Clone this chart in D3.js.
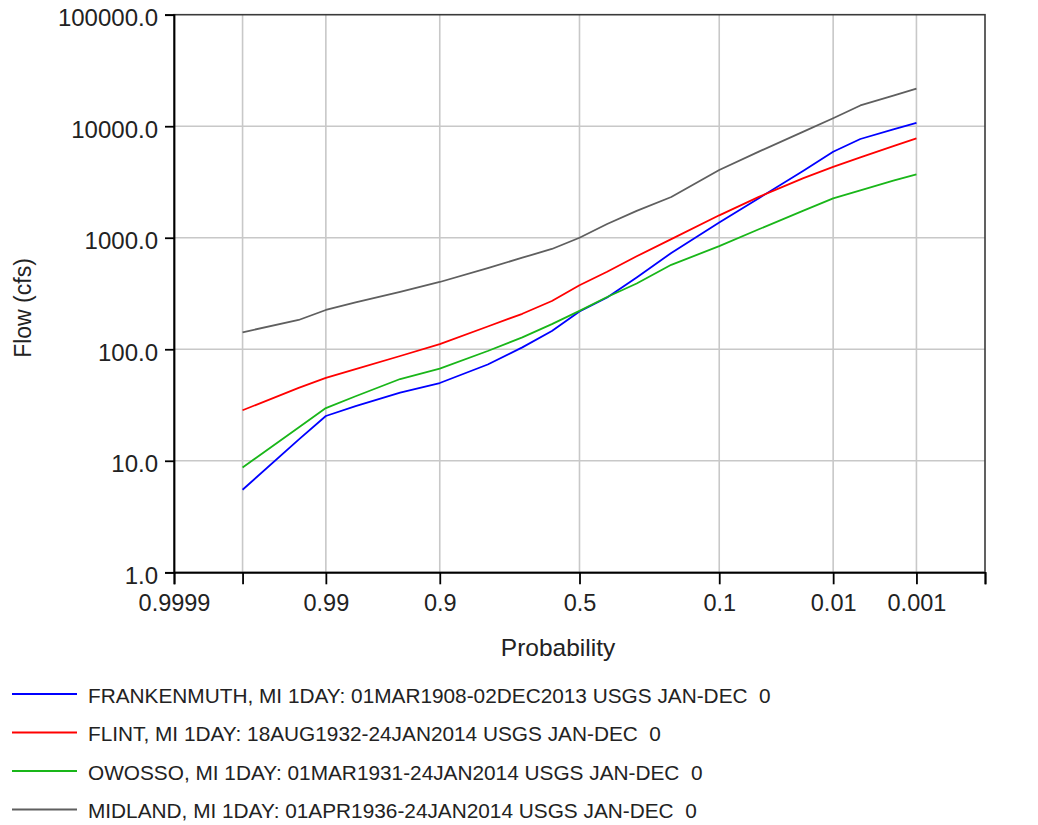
<!DOCTYPE html>
<html>
<head>
<meta charset="utf-8">
<script src="https://cdn.jsdelivr.net/npm/d3@7"></script>
<style>
  html, body { margin: 0; padding: 0; background: #ffffff; }
  svg { display: block; font-family: "Liberation Sans", Arial, sans-serif; }
  text { white-space: pre; }
</style>
</head>
<body>
<svg id="chart" width="1038" height="825"></svg>
<script>
// ---- data (exceedance probability vs flow, cfs) ----
const probabilities = [0.999, 0.995, 0.99, 0.98, 0.95, 0.9, 0.8, 0.7, 0.6, 0.5, 0.4, 0.3, 0.2, 0.1, 0.05, 0.02, 0.01, 0.005, 0.002, 0.001];
const frankenmuth = [5.5, 15.5, 25.2, 30.9, 40.8, 49.8, 73, 104, 146, 218, 291, 441, 730, 1370, 2264, 3990, 5900, 7680, 9380, 10690];
const flint       = [28.4, 45.1, 55.3, 66.4, 87.0, 111, 160, 208, 271, 375, 496, 682, 972, 1589, 2323, 3428, 4315, 5245, 6635, 7795];
const owosso      = [8.7, 19.9, 29.7, 37.9, 54.1, 67, 96.5, 128, 168, 221, 294, 389, 572, 840, 1191, 1748, 2253, 2660, 3254, 3706];
const midland     = [142, 183, 225, 263, 327, 401, 535, 662, 793, 1000, 1328, 1741, 2318, 4049, 5919, 8950, 11780, 15350, 18830, 21720];

const seriesNames = [
  "FRANKENMUTH, MI 1DAY: 01MAR1908-02DEC2013 USGS JAN-DEC  0",
  "FLINT, MI 1DAY: 18AUG1932-24JAN2014 USGS JAN-DEC  0",
  "OWOSSO, MI 1DAY: 01MAR1931-24JAN2014 USGS JAN-DEC  0",
  "MIDLAND, MI 1DAY: 01APR1936-24JAN2014 USGS JAN-DEC  0"
];
const seriesValues = [frankenmuth, flint, owosso, midland];
const seriesColors = ["#0000ff", "#ff0000", "#19b619", "#5f5f5f"];

const xTickValues = [0.9999, 0.999, 0.99, 0.9, 0.5, 0.1, 0.01, 0.001, 0.0001];
const xTickLabels = ["0.9999", "", "0.99", "0.9", "0.5", "0.1", "0.01", "0.001", ""];
const xGridValues = [0.999, 0.99, 0.9, 0.5, 0.1, 0.01, 0.001];
const yTickValues = [1, 10, 100, 1000, 10000, 100000];
const yTickLabels = ["1.0", "10.0", "100.0", "1000.0", "10000.0", "100000.0"];
const yGridValues = [10, 100, 1000, 10000];

// ---- inverse normal CDF (Acklam) ----
function qnorm(p) {
  const a = [-3.969683028665376e+01, 2.209460984245205e+02, -2.759285104469687e+02, 1.383577518672690e+02, -3.066479806614716e+01, 2.506628277459239e+00];
  const b = [-5.447609879822406e+01, 1.615858368580409e+02, -1.556989798598866e+02, 6.680131188771972e+01, -1.328068155288572e+01];
  const c = [-7.784894002430293e-03, -3.223964580411365e-01, -2.400758277161838e+00, -2.549732539343734e+00, 4.374664141464968e+00, 2.938163982698783e+00];
  const d = [7.784695709041462e-03, 3.224671290700398e-01, 2.445134137142996e+00, 3.754408661907416e+00];
  const pl = 0.02425, ph = 1 - pl;
  let q, r;
  if (p < pl) {
    q = Math.sqrt(-2 * Math.log(p));
    return (((((c[0]*q+c[1])*q+c[2])*q+c[3])*q+c[4])*q+c[5]) / ((((d[0]*q+d[1])*q+d[2])*q+d[3])*q+1);
  } else if (p <= ph) {
    q = p - 0.5; r = q*q;
    return (((((a[0]*r+a[1])*r+a[2])*r+a[3])*r+a[4])*r+a[5])*q / (((((b[0]*r+b[1])*r+b[2])*r+b[3])*r+b[4])*r+1);
  } else {
    q = Math.sqrt(-2 * Math.log(1 - p));
    return -(((((c[0]*q+c[1])*q+c[2])*q+c[3])*q+c[4])*q+c[5]) / ((((d[0]*q+d[1])*q+d[2])*q+d[3])*q+1);
  }
}
const zOf = p => qnorm(1 - p);

// ---- layout ----
const plotL = 174, plotR = 985, plotT = 14.7, plotB = 572.3;
const svg = d3.select("#chart");

const xz = d3.scaleLinear().domain([zOf(0.9999), zOf(0.0001)]).range([plotL, plotR]);
const x = p => xz(zOf(p));
const y = d3.scaleLog().domain([1, 100000]).range([plotB, plotT]);

// grid
const grid = svg.append("g");
grid.selectAll("line.gx").data(xGridValues).join("line")
  .attr("x1", d => x(d)).attr("x2", d => x(d))
  .attr("y1", plotT).attr("y2", plotB)
  .attr("stroke", "#c8c8c8").attr("stroke-width", 1.6);
grid.selectAll("line.gy").data(yGridValues).join("line")
  .attr("x1", plotL).attr("x2", plotR)
  .attr("y1", d => y(d)).attr("y2", d => y(d))
  .attr("stroke", "#c8c8c8").attr("stroke-width", 1.6);

// frame (top/right)
svg.append("rect").attr("x", plotL).attr("y", plotT).attr("width", plotR - plotL).attr("height", plotB - plotT)
  .attr("fill", "none").attr("stroke", "#3a3a3a").attr("stroke-width", 1.6);

// series
const line = d3.line().x(d => x(d.p)).y(d => y(d.v));
seriesValues.forEach((vals, i) => {
  const pts = probabilities.map((p, j) => ({p: p, v: vals[j]}));
  svg.append("path").datum(pts)
    .attr("fill", "none")
    .attr("stroke", seriesColors[i])
    .attr("stroke-width", 1.8)
    .attr("stroke-linejoin", "round")
    .attr("d", line);
});

// x axis
const xAxis = svg.append("g").attr("transform", `translate(0,${plotB})`)
  .call(d3.axisBottom(xz)
    .tickValues(xTickValues.map(zOf))
    .tickSize(12)
    .tickPadding(6)
    .tickFormat((d, i) => xTickLabels[i]));
xAxis.select(".domain").attr("stroke", "#000").attr("stroke-width", 1.8);
xAxis.selectAll(".tick line").attr("stroke", "#000").attr("stroke-width", 1.8);
xAxis.selectAll(".tick text").attr("font-size", 23.5).attr("fill", "#222")
  .attr("font-family", "Liberation Sans, Arial, sans-serif").attr("dy", "0.71em").attr("y", 22);

// y axis
const yAxis = svg.append("g").attr("transform", `translate(${plotL},0)`)
  .call(d3.axisLeft(y)
    .tickValues(yTickValues)
    .tickSize(9)
    .tickPadding(7)
    .tickFormat((d, i) => yTickLabels[i]));
yAxis.select(".domain").attr("stroke", "#000").attr("stroke-width", 1.8);
yAxis.selectAll(".tick line").attr("stroke", "#000").attr("stroke-width", 1.8);
yAxis.selectAll(".tick text").attr("font-size", 24).attr("fill", "#222")
  .attr("font-family", "Liberation Sans, Arial, sans-serif").attr("dy", "0.45em");

// axis titles
svg.append("text").attr("x", 558).attr("y", 656).attr("text-anchor", "middle")
  .attr("font-size", 24.5).attr("fill", "#222").text("Probability");
svg.append("text").attr("transform", "translate(31,308) rotate(-90)").attr("text-anchor", "middle")
  .attr("font-size", 23).attr("fill", "#222").text("Flow (cfs)");

// legend
const legend = svg.append("g");
const rowY = [694, 732.5, 771, 809.5];
seriesNames.forEach((name, i) => {
  legend.append("line").attr("x1", 12).attr("x2", 77).attr("y1", rowY[i]).attr("y2", rowY[i])
    .attr("stroke", seriesColors[i]).attr("stroke-width", 2);
  legend.append("text").attr("x", 88).attr("y", rowY[i] + 8.7)
    .attr("font-size", 20.8).attr("fill", "#222").text(name);
});
</script>
</body>
</html>
